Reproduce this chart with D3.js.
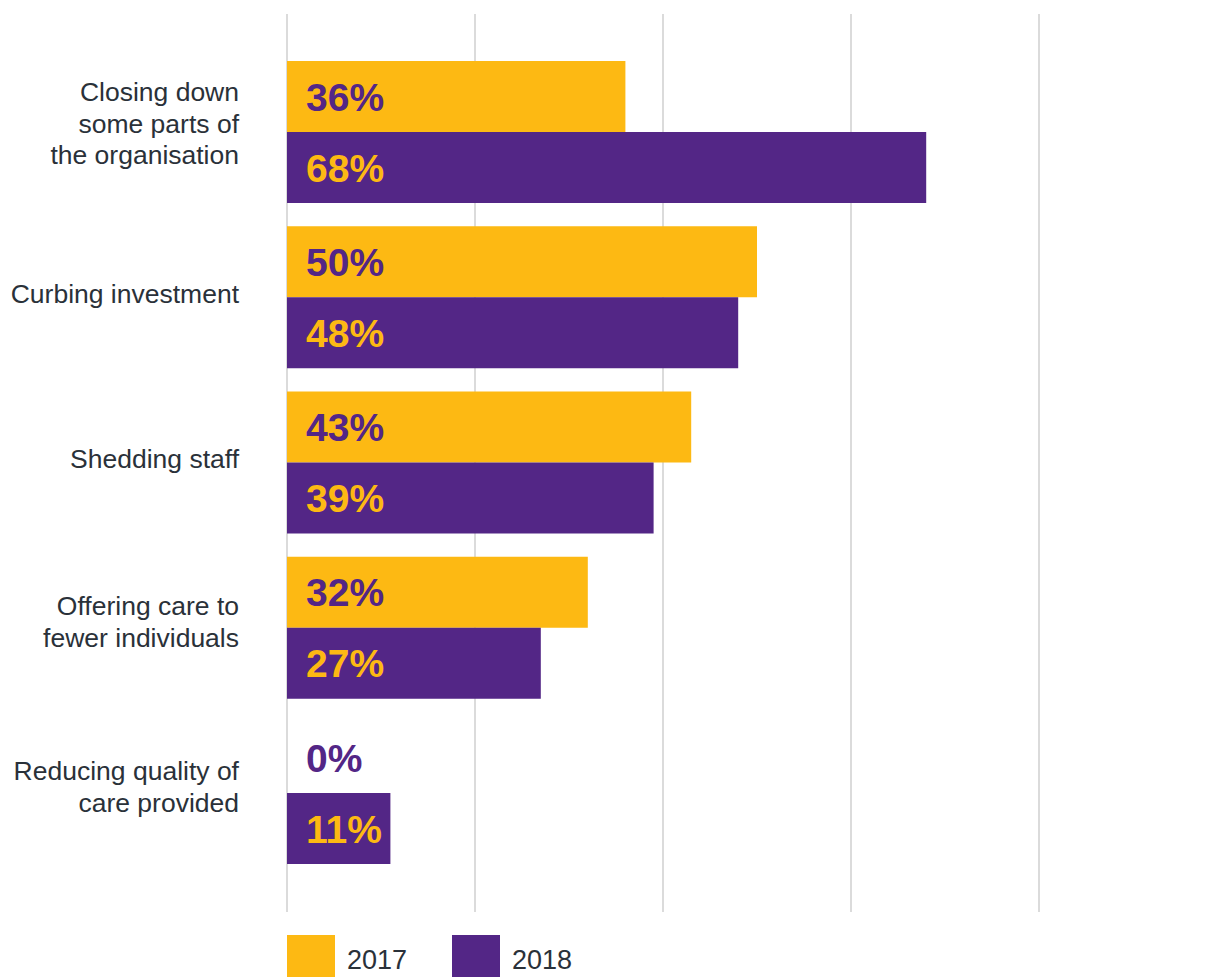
<!DOCTYPE html>
<html>
<head>
<meta charset="utf-8">
<script src="https://cdn.jsdelivr.net/npm/d3@7"></script>
<style>
  html, body { margin: 0; padding: 0; background: #fff; }
  svg { display: block; }
  text { font-family: "Liberation Sans", Arial, Helvetica, sans-serif; }
</style>
</head>
<body>
<svg id="chart" width="1216" height="977"></svg>
<script>
// Responses by category, two survey years
const categories = [
  ["Closing down", "some parts of", "the organisation"],
  ["Curbing investment"],
  ["Shedding staff"],
  ["Offering care to", "fewer individuals"],
  ["Reducing quality of", "care provided"]
];
const years = ["2017", "2018"];
const values2017 = [36, 50, 43, 32, 0];
const values2018 = [68, 48, 39, 27, 11];
const gridTicks = [0, 20, 40, 60, 80];

const colors = { "2017": "#FDB913", "2018": "#532686" };
const labelColors = { "2017": "#532686", "2018": "#FDB913" };
const textColor = "#2a3139";

const svg = d3.select("#chart");

const x = d3.scaleLinear().domain([0, 80]).range([287, 1039]);
const keys = categories.map((c, i) => i);
const y = d3.scaleBand().domain(keys).range([61, 864]).paddingInner(0.1407).paddingOuter(0);
const yInner = d3.scaleBand().domain(years).range([0, y.bandwidth()]);

// Vertical gridlines
svg.append("g")
  .selectAll("line")
  .data(gridTicks)
  .join("line")
  .attr("x1", d => x(d)).attr("x2", d => x(d))
  .attr("y1", 14).attr("y2", 912)
  .attr("stroke", "#cfcfcf")
  .attr("stroke-width", 1.5);

const rows = keys.map(i => ({
  i,
  lines: categories[i],
  vals: { "2017": values2017[i], "2018": values2018[i] }
}));

const groups = svg.append("g")
  .selectAll("g")
  .data(rows)
  .join("g")
  .attr("transform", d => `translate(0,${y(d.i)})`);

// Bars
groups.selectAll("rect")
  .data(d => years.map(yr => ({ yr, v: d.vals[yr] })))
  .join("rect")
  .attr("x", x(0))
  .attr("y", d => yInner(d.yr))
  .attr("width", d => x(d.v) - x(0))
  .attr("height", yInner.bandwidth())
  .attr("fill", d => colors[d.yr]);

// Value labels inside bars
const valueSize = 39;
groups.selectAll("text.val")
  .data(d => years.map(yr => ({ yr, v: d.vals[yr] })))
  .join("text")
  .attr("class", "val")
  .attr("x", x(0) + 19)
  .attr("y", d => yInner(d.yr) + yInner.bandwidth() / 2 + valueSize * 0.36)
  .attr("font-size", valueSize)
  .attr("font-weight", "bold")
  .attr("fill", d => labelColors[d.yr])
  .text(d => d.v + "%");

// Category labels, block sits slightly above the group centre
const catSize = 26.5;
const lineH = 31.5;
groups.append("text")
  .attr("text-anchor", "end")
  .attr("font-size", catSize)
  .attr("fill", textColor)
  .each(function (d) {
    const n = d.lines.length;
    const lift = 4 + (n - 1) * 2.5;
    const base = y.bandwidth() / 2 - lift + catSize * 0.36 - (n - 1) * lineH / 2;
    d3.select(this).selectAll("tspan")
      .data(d.lines)
      .join("tspan")
      .attr("x", 239)
      .attr("y", (t, k) => base + k * lineH)
      .text(t => t);
  });

// Legend
const legend = svg.append("g")
  .selectAll("g")
  .data(years)
  .join("g")
  .attr("transform", (d, i) => `translate(${287 + i * 165},935)`);
legend.append("rect")
  .attr("width", 48).attr("height", 48)
  .attr("fill", d => colors[d]);
legend.append("text")
  .attr("x", 60).attr("y", 34)
  .attr("font-size", 27)
  .attr("fill", textColor)
  .text(d => d);
</script>
</body>
</html>
